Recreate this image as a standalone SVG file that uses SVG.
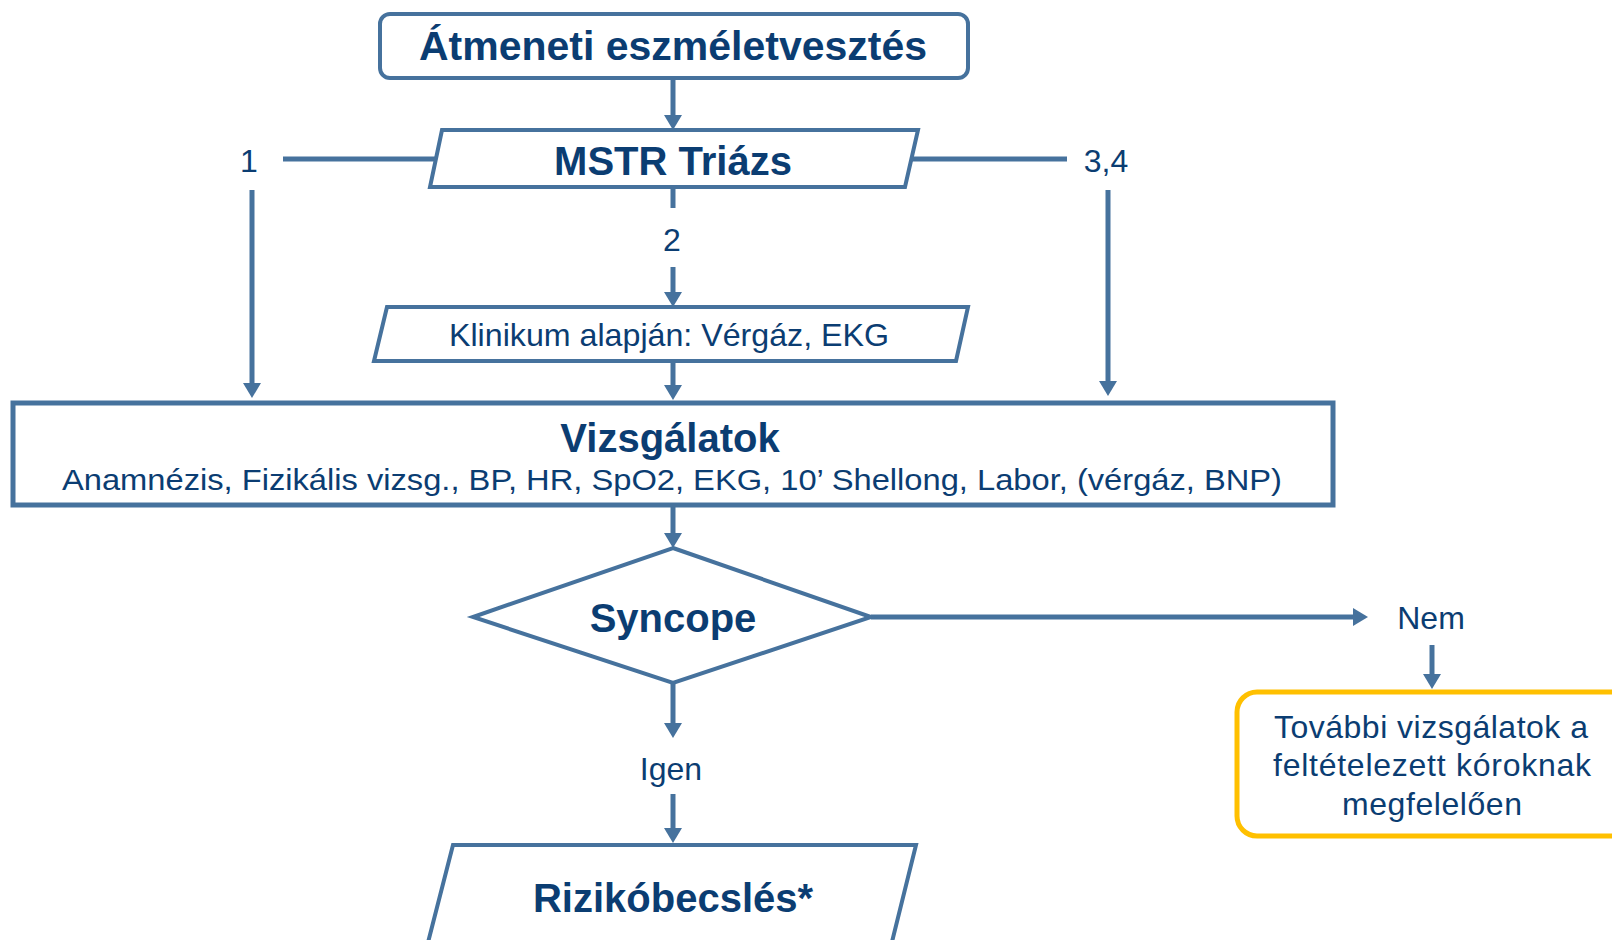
<svg xmlns="http://www.w3.org/2000/svg" width="1612" height="940" viewBox="0 0 1612 940">
<style>
.box{fill:#ffffff;stroke:#46729d;stroke-width:4;stroke-linejoin:miter}
.ybox{fill:#ffffff;stroke:#ffc000;stroke-width:5}
.con{fill:none;stroke:#46729d;stroke-width:5}
.t{font-family:"Liberation Sans",Arial,Helvetica,sans-serif;fill:#0b3d72;text-anchor:middle}
.b{font-weight:bold;font-size:40px}
.r{font-size:32px}
</style>
<defs>
<marker id="ah" markerUnits="userSpaceOnUse" markerWidth="16" markerHeight="18" refX="5" refY="9" orient="auto">
<path d="M0,0 L15,9 L0,18 Z" fill="#46729d"/>
</marker>
</defs>
<rect width="1612" height="940" fill="#ffffff"/>
<g id="connectors">
<path class="con" d="M673,80 V120" marker-end="url(#ah)"/>
<path class="con" d="M283,159 H436"/>
<path class="con" d="M252,190 V388" marker-end="url(#ah)"/>
<path class="con" d="M912,159 H1067"/>
<path class="con" d="M1108,190 V386" marker-end="url(#ah)"/>
<path class="con" d="M673,187 V208"/>
<path class="con" d="M673,267 V297" marker-end="url(#ah)"/>
<path class="con" d="M673,362 V390" marker-end="url(#ah)"/>
<path class="con" d="M673,507 V538" marker-end="url(#ah)"/>
<path class="con" d="M871,617 H1358" marker-end="url(#ah)"/>
<path class="con" d="M1432,645 V679" marker-end="url(#ah)"/>
<path class="con" d="M673,683 V728" marker-end="url(#ah)"/>
<path class="con" d="M673,794 V833" marker-end="url(#ah)"/>
<text class="t r" x="249" y="172">1</text>
<text class="t r" x="1106" y="172">3,4</text>
<text class="t r" x="672" y="251">2</text>
<text class="t r" x="1431" y="629">Nem</text>
<text class="t r" x="671" y="780">Igen</text>
</g>
<g id="node-start">
<rect class="box" x="380" y="14" width="588" height="64" rx="10"/>
<text class="t b" x="673" y="60" font-size="41" textLength="508" lengthAdjust="spacingAndGlyphs">Átmeneti eszméletvesztés</text>
</g>
<g id="node-mstr">
<polygon class="box" points="442,130 918,130 905,187 430,187"/>
<text class="t b" x="673" y="175">MSTR Triázs</text>
</g>
<g id="node-klinikum">
<polygon class="box" points="387,307 968,307 956,361 374,361"/>
<text class="t r" x="669" y="346" textLength="440" lengthAdjust="spacingAndGlyphs">Klinikum alapján: Vérgáz, EKG</text>
</g>
<g id="node-vizsgalatok">
<rect class="box" x="13" y="403" width="1320" height="102" style="stroke-width:5"/>
<text class="t b" x="670" y="452">Vizsgálatok</text>
<text class="t" x="672" y="490" font-size="30" textLength="1220" lengthAdjust="spacingAndGlyphs">Anamnézis, Fizikális vizsg., BP, HR, SpO2, EKG, 10’ Shellong, Labor, (vérgáz, BNP)</text>
</g>
<g id="node-syncope">
<polygon class="box" points="673,548 871,617 673,683 473,617"/>
<text class="t b" x="673" y="632">Syncope</text>
</g>
<g id="node-tovabbi">
<rect class="ybox" x="1237" y="692" width="400" height="144" rx="20"/>
<text class="t r" x="1431" y="738" textLength="314" lengthAdjust="spacing">További vizsgálatok a</text>
<text class="t r" x="1432" y="776" textLength="318" lengthAdjust="spacing">feltételezett kóroknak</text>
<text class="t r" x="1432" y="815" textLength="180" lengthAdjust="spacing">megfelelően</text>
</g>
<g id="node-rizikobecsles">
<polygon class="box" points="453,845 916,845 887,962 423,962"/>
<text class="t b" x="673" y="912">Rizikóbecslés*</text>
</g>
</svg>
